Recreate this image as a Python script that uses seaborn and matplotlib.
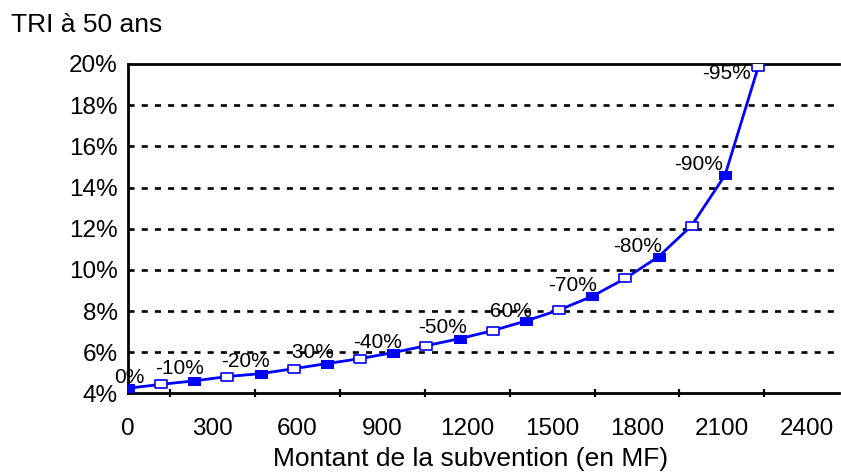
import matplotlib
matplotlib.use("Agg")
import matplotlib.pyplot as plt
from matplotlib.ticker import MultipleLocator, FuncFormatter
import pandas as pd
import seaborn as sns

# subsidy amount (MF) and resulting IRR at 50 years (%)
subvention = [0, 117, 235, 352, 469, 586, 704, 821, 938, 1055,
              1173, 1290, 1407, 1524, 1642, 1759, 1876, 1993, 2111, 2228]
tri = [4.25, 4.44, 4.61, 4.82, 4.96, 5.20, 5.45, 5.69, 5.98, 6.32,
       6.66, 7.05, 7.52, 8.05, 8.72, 9.59, 10.64, 12.15, 14.60, 19.84]
point_labels = ["0%", "-10%", "-20%", "-30%", "-40%", "-50%",
                "-60%", "-70%", "-80%", "-90%", "-95%"]
label_idx = [0, 2, 4, 6, 8, 10, 12, 14, 16, 18, 19]

df = pd.DataFrame({"subvention": subvention, "tri": tri})

sns.set_style("white")
plt.rcParams["font.family"] = ["Liberation Sans", "DejaVu Sans"]
plt.rcParams["text.color"] = "black"

BLUE = "#0000FF"
rect = [(-1, -0.6), (1, -0.6), (1, 0.6), (-1, 0.6), (-1, -0.6)]

fig = plt.figure(figsize=(8.41, 4.74), dpi=100)
ax = fig.add_axes([0.152, 0.170, 0.846, 0.695])

# dashed horizontal grid
for yv in range(6, 20, 2):
    ax.axhline(yv, color="black", lw=1.9, ls=(0, (2.3, 2.7)), zorder=1)

sns.lineplot(data=df, x="subvention", y="tri", ax=ax, color=BLUE, lw=2.0,
             marker=rect, markersize=9, markerfacecolor=BLUE,
             markeredgecolor=BLUE, markevery=(0, 2), zorder=3)
sns.lineplot(data=df, x="subvention", y="tri", ax=ax, color=BLUE,
             linestyle="none", marker=rect, markersize=9,
             markerfacecolor="white", markeredgecolor=BLUE, markeredgewidth=1.2,
             markevery=(1, 2), zorder=4)

offsets = [(1, 11), (-15, 12), (-15, 12), (-17, 11), (-16, 10), (-17, 11),
           (-18, 9), (-20, 11), (-21, 10), (-26, 11), (-32, -6)]
for lab, i, off in zip(point_labels, label_idx, offsets):
    ax.annotate(lab, (subvention[i], tri[i]), xytext=off,
                textcoords="offset pixels", ha="center", va="center",
                fontsize=15, color="black", zorder=5)

ax.set_xlim(0, 2515)
ax.set_ylim(4, 20)
ax.xaxis.set_major_locator(MultipleLocator(300))
ax.xaxis.set_minor_locator(MultipleLocator(150))
ax.yaxis.set_major_locator(MultipleLocator(2))
ax.yaxis.set_major_formatter(FuncFormatter(lambda v, p: f"{v:.0f}%"))

for s in ["left", "bottom", "top"]:
    ax.spines[s].set_visible(True)
    ax.spines[s].set_color("black")
    ax.spines[s].set_linewidth(2.0)
ax.spines["right"].set_visible(False)

ax.tick_params(axis="both", which="major", direction="inout", length=8.6,
               width=1.6, color="black", labelsize=17.5, labelcolor="black")
ax.tick_params(axis="x", which="major", length=9.5, pad=13)
ax.tick_params(axis="x", which="minor", direction="inout", length=5.5,
               width=1.6, color="black", bottom=True)
ax.tick_params(axis="y", pad=3)

ax.set_xlabel("Montant de la subvention (en MF)", fontsize=19, color="black")
ax.xaxis.set_label_coords(0.4817, -0.199)
ax.xaxis.label.set_va("center")
ax.set_ylabel("")
fig.text(0.013, 0.948, "TRI à 50 ans", fontsize=19, ha="left", va="center",
         color="black")

fig.savefig("out.png", dpi=100)
